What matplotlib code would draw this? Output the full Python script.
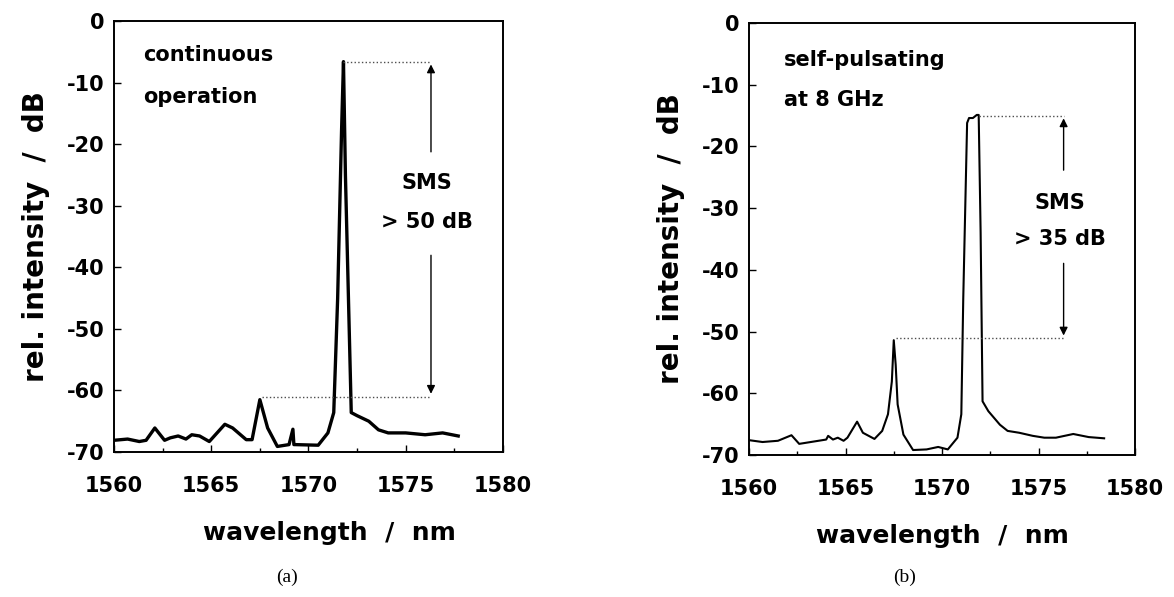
import numpy as np
import matplotlib.pyplot as plt
from matplotlib.ticker import MultipleLocator

# (a) continuous operation
wl_a = [1560.0, 1560.7, 1561.3, 1561.65, 1562.1, 1562.6, 1562.9, 1563.3, 1563.7,
        1564.0, 1564.4, 1564.9, 1565.3, 1565.7, 1566.1, 1566.8, 1567.1, 1567.5,
        1567.9, 1568.4, 1569.0, 1569.2, 1569.25, 1569.3, 1570.5, 1571.0, 1571.3,
        1571.5, 1571.7, 1571.8, 1571.9, 1572.1, 1572.2, 1572.5, 1573.1, 1573.6,
        1574.1, 1575.0, 1576.0, 1576.9, 1577.7]
db_a = [-68.1, -67.9, -68.3, -68.1, -66.1, -68.1, -67.7, -67.4, -67.9,
        -67.2, -67.4, -68.3, -66.9, -65.5, -66.1, -68.0, -68.0, -61.5,
        -66.1, -69.1, -68.8, -66.3, -68.8, -68.8, -68.9, -66.9, -63.6,
        -45.1, -18.0, -6.6, -25.0, -50.7, -63.6, -64.1, -65.0, -66.4,
        -66.9, -66.9, -67.2, -66.9, -67.4]

# (b) self-pulsating at 8 GHz
wl_b = [1560.0, 1560.7, 1561.5, 1562.2, 1562.6, 1563.2, 1564.0, 1564.1, 1564.35,
        1564.6, 1564.9, 1565.1, 1565.6, 1565.9, 1566.5, 1566.9, 1567.2, 1567.4,
        1567.5, 1567.6, 1567.7, 1568.0, 1568.5, 1569.2, 1569.8, 1570.3, 1570.8,
        1571.0, 1571.1, 1571.3, 1571.4, 1571.6, 1571.8, 1571.9, 1572.0, 1572.1,
        1572.4, 1573.0, 1573.4, 1574.0, 1574.7, 1575.3, 1575.9, 1576.8, 1577.6,
        1578.4]
db_b = [-67.6, -67.9, -67.7, -66.8, -68.2, -67.9, -67.5, -66.9, -67.5,
        -67.2, -67.7, -67.2, -64.6, -66.4, -67.4, -66.1, -63.4, -58.1,
        -51.4, -55.4, -61.8, -66.7, -69.2, -69.1, -68.7, -69.1, -67.2,
        -63.4, -44.7, -16.2, -15.4, -15.4, -14.9, -14.9, -33.9, -61.3,
        -62.9, -65.1, -66.1, -66.4, -66.9, -67.2, -67.2, -66.6, -67.1,
        -67.3]

# SMS markers: peak wl/dB, side-mode wl/dB, arrow wl, arrow tails, text y
sms_a = dict(pk=(1571.8, -6.6), sd=(1567.6, -61.0), ax=1576.3,
             tails=(-21.7, -37.6), txt_y=(-26.3, -32.7), txt="> 50 dB")
sms_b = dict(pk=(1571.9, -15.0), sd=(1567.6, -51.1), ax=1576.3,
             tails=(-24.3, -38.5), txt_y=(-29.2, -35.0), txt="> 35 dB")

x_ticks = [1560, 1565, 1570, 1575, 1580]
y_ticks = [0, -10, -20, -30, -40, -50, -60, -70]

plt.rcParams['font.family'] = 'DejaVu Sans'
plt.rcParams['font.weight'] = 'bold'
plt.rcParams['axes.unicode_minus'] = False

fig = plt.figure(figsize=(11.74, 5.97), dpi=100)
ax_a = fig.add_axes([0.0971, 0.2429, 0.3313, 0.7219])
ax_b = fig.add_axes([0.638, 0.2379, 0.3288, 0.7236])


def setup(ax, xlab_pos):
    ax.set_xlim(1560, 1580)
    ax.set_ylim(-70, 0)
    ax.set_xticks(x_ticks)
    ax.set_yticks(y_ticks)
    ax.xaxis.set_minor_locator(MultipleLocator(2.5))
    ax.tick_params(direction='in', length=5, width=1, labelsize=15,
                   top=False, right=False)
    ax.tick_params(axis='x', pad=17)
    ax.tick_params(axis='y', pad=7)
    ax.tick_params(which='minor', direction='in', length=3, width=1)
    for s in ax.spines.values():
        s.set_linewidth(1.4)
    ax.set_xlabel("wavelength  /  nm", fontsize=18, fontweight='bold')
    ax.xaxis.set_label_coords(xlab_pos, -0.16)
    ax.set_ylabel("rel. intensity  /  dB", fontsize=20, fontweight='bold', labelpad=12)


def sms(ax, m):
    (pk_x, pk_y), (sd_x, sd_y) = m['pk'], m['sd']
    ar_x = m['ax']
    ax.plot([pk_x, ar_x], [pk_y, pk_y], ls=':', lw=1, color='0.3')
    ax.plot([sd_x, ar_x], [sd_y, sd_y], ls=':', lw=1, color='0.3')
    ax.annotate('', xy=(ar_x, pk_y), xytext=(ar_x, m['tails'][0]),
                arrowprops=dict(arrowstyle='-|>', lw=1, color='k', mutation_scale=12))
    ax.annotate('', xy=(ar_x, sd_y), xytext=(ar_x, m['tails'][1]),
                arrowprops=dict(arrowstyle='-|>', lw=1, color='k', mutation_scale=12))
    ax.text(ar_x - 0.2, m['txt_y'][0], "SMS", ha='center', va='center', fontsize=15)
    ax.text(ar_x - 0.2, m['txt_y'][1], m['txt'], ha='center', va='center', fontsize=15)


setup(ax_a, 0.555)
ax_a.plot(wl_a, db_a, color='k', lw=2.4)
sms(ax_a, sms_a)
ax_a.text(1561.5, -5.5, "continuous", fontsize=15, va='center')
ax_a.text(1561.5, -12.3, "operation", fontsize=15, va='center')

setup(ax_b, 0.5)
ax_b.plot(wl_b, db_b, color='k', lw=1.5)
sms(ax_b, sms_b)
ax_b.text(1561.8, -6.0, "self-pulsating", fontsize=15, va='center')
ax_b.text(1561.8, -12.5, "at 8 GHz", fontsize=15, va='center')

fig.text(287 / 1174, 1 - 577 / 597, "(a)", family='Liberation Serif',
         fontweight='normal', fontsize=14, ha='center', va='center')
fig.text(905 / 1174, 1 - 577 / 597, "(b)", family='Liberation Serif',
         fontweight='normal', fontsize=14, ha='center', va='center')

fig.savefig("out.png", dpi=100)
